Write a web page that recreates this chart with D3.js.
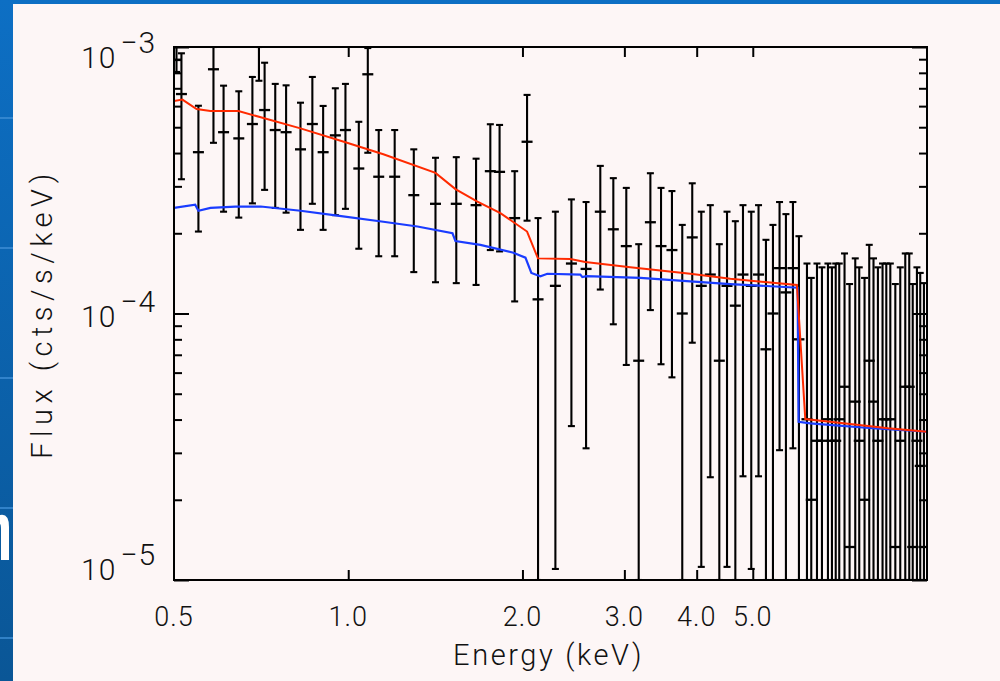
<!DOCTYPE html>
<html>
<head>
<meta charset="utf-8">
<script src="https://cdn.jsdelivr.net/npm/d3@7"></script>
<style>
  html, body { margin: 0; padding: 0; }
  body { width: 1000px; height: 681px; overflow: hidden; background: #0b63b0; }
  svg text { font-family: "Roboto", "Liberation Sans", "DejaVu Sans", sans-serif; font-weight: 300; fill: #111; }
</style>
</head>
<body>
<script>
// Spectrum bins: energy (keV), flux and the top/bottom of each error bar (cts/s/keV)
const energy = [
  0.505, 0.515, 0.551, 0.585, 0.609, 0.647, 0.683, 0.701, 0.717, 0.748,
  0.781, 0.827, 0.867, 0.905, 0.950, 0.989, 1.043, 1.081, 1.129, 1.203,
  1.298, 1.415, 1.537, 1.663, 1.760, 1.826, 1.939, 2.037, 2.128, 2.280,
  2.430, 2.576, 2.726, 2.871, 3.023, 3.176, 3.327, 3.471, 3.625, 3.777,
  3.930, 4.074, 4.223, 4.377, 4.513, 4.665, 4.809, 4.970, 5.116, 5.269,
  5.418, 5.562, 5.705, 5.866, 6.008, 6.203, 6.310, 6.455, 6.584, 6.743,
  6.851, 6.955, 7.053, 7.203, 7.349, 7.517, 7.637, 7.800, 7.947, 8.083,
  8.226, 8.379, 8.505, 8.642, 8.816, 8.991, 9.172, 9.318, 9.448, 9.607,
  9.734, 9.879
];
const flux = [
  8.94e-4, 6.66e-4, 4.03e-4, 8.25e-4, 4.79e-4, 4.54e-4, 5.14e-4, 1.08e-3, 5.80e-4, 4.88e-4,
  4.79e-4, 4.13e-4, 5.14e-4, 4.03e-4, 4.66e-4, 4.88e-4, 3.50e-4, 7.90e-4, 3.26e-4, 3.26e-4,
  2.78e-4, 2.58e-4, 2.58e-4, 2.55e-4, 3.42e-4, 3.40e-4, 2.28e-4, 4.41e-4, 1.13e-4, 1.27e-4,
  1.54e-4, 1.47e-4, 2.41e-4, 2.07e-4, 1.79e-4, 6.65e-5, 2.20e-4, 1.79e-4, 1.73e-4, 1.00e-4,
  1.93e-4, 1.27e-4, 1.40e-4, 6.65e-5, 1.27e-4, 1.07e-4, 1.40e-4, 1.27e-4, 1.40e-4, 7.34e-5,
  1.00e-4, 1.48e-4, 1.20e-4, 1.48e-4, 8.00e-5, 4.01e-5, 2.00e-5, 3.33e-5, 3.33e-5, 4.01e-5,
  3.33e-5, 3.33e-5, 4.01e-5, 5.31e-5, 1.33e-5, 4.67e-5, 3.33e-5, 2.00e-5, 6.65e-5, 4.67e-5,
  3.33e-5, 4.01e-5, 4.01e-5, 4.01e-5, 1.33e-5, 3.33e-5, 5.31e-5, 5.31e-5, 1.33e-5, 3.33e-5,
  2.68e-5, 1.33e-5
];
const fluxHi = [
  1.02e-3, 9.47e-4, 6.02e-4, 1.05e-3, 7.16e-4, 6.82e-4, 7.72e-4, 1.25e-3, 8.73e-4, 7.27e-4,
  7.18e-4, 6.18e-4, 7.72e-4, 6.01e-4, 7.00e-4, 7.27e-4, 5.24e-4, 9.91e-4, 4.88e-4, 4.88e-4,
  4.13e-4, 3.84e-4, 3.86e-4, 3.81e-4, 5.13e-4, 5.10e-4, 3.42e-4, 6.61e-4, 2.28e-4, 2.41e-4,
  2.68e-4, 2.62e-4, 3.58e-4, 3.22e-4, 2.96e-4, 1.82e-4, 3.36e-4, 2.96e-4, 2.88e-4, 2.15e-4,
  3.08e-4, 2.41e-4, 2.55e-4, 1.82e-4, 2.41e-4, 2.22e-4, 2.55e-4, 2.41e-4, 2.55e-4, 1.89e-4,
  2.15e-4, 2.62e-4, 2.36e-4, 2.62e-4, 1.95e-4, 1.54e-4, 1.36e-4, 1.54e-4, 1.49e-4, 1.54e-4,
  1.49e-4, 1.54e-4, 1.54e-4, 1.68e-4, 1.29e-4, 1.61e-4, 1.49e-4, 1.36e-4, 1.81e-4, 1.61e-4,
  1.49e-4, 1.54e-4, 1.54e-4, 1.54e-4, 1.29e-4, 1.49e-4, 1.68e-4, 1.68e-4, 1.29e-4, 1.49e-4,
  1.42e-4, 1.30e-4
];
const fluxLo = [
  8.06e-4, 3.19e-4, 2.03e-4, 4.37e-4, 2.41e-4, 2.29e-4, 2.59e-4, 7.47e-4, 2.91e-4, 2.49e-4,
  2.39e-4, 2.06e-4, 2.58e-4, 2.06e-4, 2.34e-4, 2.47e-4, 1.75e-4, 4.01e-4, 1.64e-4, 1.64e-4,
  1.43e-4, 1.31e-4, 1.30e-4, 1.28e-4, 1.73e-4, 1.71e-4, 1.11e-4, 2.23e-4, 0, 1.10e-5,
  3.78e-5, 3.12e-5, 1.23e-4, 9.11e-5, 6.41e-5, 0, 1.03e-4, 6.45e-5, 5.76e-5, 0,
  7.77e-5, 1.12e-5, 2.43e-5, 0, 1.12e-5, 0, 2.45e-5, 1.10e-5, 2.45e-5, 0,
  0, 3.07e-5, 0, 3.12e-5, 0, 0, 0, 0, 0, 0,
  0, 0, 0, 0, 0, 0, 0, 0, 0, 0,
  0, 0, 0, 0, 0, 0, 0, 0, 0, 0,
  0, 0
];

// Total model (red) and continuum model (blue)
const modelTotalE = [0.5, 0.517, 0.547, 0.578, 0.646, 0.706, 0.827, 0.989, 1.150, 1.415,
  1.532, 1.672, 1.832, 2.037, 2.127, 2.420, 2.568, 3.071, 3.900, 4.573, 5.960, 6.162, 7.370, 8.570, 10];
const modelTotalF = [6.27e-4, 6.35e-4, 5.85e-4, 5.75e-4, 5.75e-4, 5.45e-4, 4.95e-4, 4.39e-4, 3.96e-4, 3.37e-4,
  2.93e-4, 2.63e-4, 2.38e-4, 2.03e-4, 1.61e-4, 1.60e-4, 1.56e-4, 1.49e-4, 1.41e-4, 1.35e-4,
  1.28e-4, 4.02e-5, 3.85e-5, 3.71e-5, 3.60e-5];
const modelContE = [0.5, 0.544, 0.551, 0.578, 0.638, 0.706, 0.827, 0.958, 1.150, 1.317,
  1.514, 1.532, 1.692, 1.929, 2.024, 2.072, 2.148, 2.208, 2.518, 2.538,
  2.579, 3.197, 3.900, 4.573, 5.976, 6.000, 6.285, 8.045, 10];
const modelContF = [2.49e-4, 2.56e-4, 2.43e-4, 2.49e-4, 2.52e-4, 2.52e-4, 2.43e-4, 2.33e-4, 2.21e-4, 2.12e-4,
  2.00e-4, 1.87e-4, 1.81e-4, 1.69e-4, 1.62e-4, 1.42e-4, 1.38e-4, 1.41e-4, 1.40e-4, 1.37e-4,
  1.38e-4, 1.36e-4, 1.32e-4, 1.29e-4, 1.25e-4, 3.92e-5, 3.87e-5, 3.71e-5, 3.60e-5];

const xTickValues = [0.5, 1, 2, 3, 4, 5];
const xTickLabels = ["0.5", "1.0", "2.0", "3.0", "4.0", "5.0"];
const yTickExps = [-3, -4, -5];

// layout
const SVG_DIM = { W: 1000, H: 681 };
const PLOT = { L: 174, R: 927, T: 47, B: 580 };
const PANEL = { X: 13, Y: 4 };
const Y_LABEL_DY = { "-3": 21, "-4": 13, "-5": 0 }; // where each "10" sits against its tick

const svg = d3.select("body").append("svg")
  .attr("width", SVG_DIM.W)
  .attr("height", SVG_DIM.H);

// slide background
const grad = svg.append("defs").append("linearGradient")
  .attr("id", "slide").attr("x1", 0).attr("y1", 0).attr("x2", 0).attr("y2", 1);
grad.append("stop").attr("offset", "0%").attr("stop-color", "#0d6fc4");
grad.append("stop").attr("offset", "100%").attr("stop-color", "#0a5696");
svg.append("rect").attr("width", SVG_DIM.W).attr("height", SVG_DIM.H).attr("fill", "url(#slide)");
svg.selectAll("line.band").data([118, 248, 378, 508, 638]).enter().append("line")
  .attr("x1", 0).attr("x2", PANEL.X).attr("y1", d => d).attr("y2", d => d)
  .attr("stroke", "#3f8fd6").attr("stroke-width", 1.5);
// edge of a letter from the slide behind the panel
svg.append("path")
  .attr("d", "M0,515 Q9,513 9,527 L9,560 L1,560 L1,530 Q1,524 0,524 Z")
  .attr("fill", "#fff");
svg.append("rect")
  .attr("x", PANEL.X).attr("y", PANEL.Y)
  .attr("width", SVG_DIM.W - PANEL.X).attr("height", SVG_DIM.H - PANEL.Y)
  .attr("fill", "#fdf6f6");

// scales
const x = d3.scaleLog().domain([0.5, 10]).range([PLOT.L, PLOT.R]);
const y = d3.scaleLog().domain([1e-5, 1e-3]).range([PLOT.B, PLOT.T]);
const yc = y.copy().clamp(true);

svg.append("clipPath").attr("id", "plotClip").append("rect")
  .attr("x", PLOT.L).attr("y", PLOT.T)
  .attr("width", PLOT.R - PLOT.L).attr("height", PLOT.B - PLOT.T);

const bins = energy.map((e, i) => ({ e, f: flux[i], hi: fluxHi[i], lo: fluxLo[i] }));

// data points with error bars
const pts = svg.append("g").attr("clip-path", "url(#plotClip)")
  .attr("stroke", "#000").attr("stroke-width", 2.1).attr("fill", "none");

const CROSS = 5.5, CAP = 3.5;
const lowY = d => (d.lo > 0 ? yc(d.lo) : PLOT.B);
const bar = pts.selectAll("g.bin").data(bins).enter().append("g").attr("class", "bin");
bar.append("line")
  .attr("x1", d => x(d.e)).attr("x2", d => x(d.e))
  .attr("y1", d => yc(d.hi)).attr("y2", lowY);
bar.append("line")
  .attr("x1", d => x(d.e) - CAP).attr("x2", d => x(d.e) + CAP)
  .attr("y1", d => yc(d.hi)).attr("y2", d => yc(d.hi));
bar.append("line")
  .attr("x1", d => x(d.e) - CAP).attr("x2", d => x(d.e) + CAP)
  .attr("y1", lowY).attr("y2", lowY);
bar.filter(d => d.f <= 1e-3).append("line")
  .attr("stroke-width", 2.3)
  .attr("x1", d => x(d.e) - CROSS).attr("x2", d => x(d.e) + CROSS)
  .attr("y1", d => y(d.f)).attr("y2", d => y(d.f));

// model curves
const line = d3.line().x(d => x(d[0])).y(d => y(d[1]));
const models = svg.append("g").attr("clip-path", "url(#plotClip)").attr("fill", "none");
models.append("path")
  .datum(modelContE.map((e, i) => [e, modelContF[i]]))
  .attr("d", line).attr("stroke", "#1a3cff").attr("stroke-width", 2.2);
models.append("path")
  .datum(modelTotalE.map((e, i) => [e, modelTotalF[i]]))
  .attr("d", line).attr("stroke", "#ff2a00").attr("stroke-width", 2);

// axes: ticks on all four sides, pointing inward
const yMajor = yTickExps.map(k => Math.pow(10, k));
const yMinor = y.ticks().filter(v => Math.abs(Math.log10(v) - Math.round(Math.log10(v))) > 1e-6);
const xTicks = xTickValues.filter(v => v > 0.5);

function styleAxis(g) {
  g.select(".domain").remove();
  g.selectAll(".tick line").attr("stroke", "#000").attr("stroke-width", 2);
  g.selectAll(".tick text").remove();
}

svg.append("g").attr("transform", `translate(${PLOT.L},0)`)
  .call(d3.axisLeft(y).tickValues(yMajor).tickSize(-15)).call(styleAxis);
svg.append("g").attr("transform", `translate(${PLOT.L},0)`)
  .call(d3.axisLeft(y).tickValues(yMinor).tickSize(-8)).call(styleAxis);
svg.append("g").attr("transform", `translate(${PLOT.R},0)`)
  .call(d3.axisRight(y).tickValues(yMajor).tickSize(-15)).call(styleAxis);
svg.append("g").attr("transform", `translate(${PLOT.R},0)`)
  .call(d3.axisRight(y).tickValues(yMinor).tickSize(-8)).call(styleAxis);
svg.append("g").attr("transform", `translate(0,${PLOT.B})`)
  .call(d3.axisBottom(x).tickValues(xTicks).tickSize(-10)).call(styleAxis);
svg.append("g").attr("transform", `translate(0,${PLOT.T})`)
  .call(d3.axisTop(x).tickValues(xTicks).tickSize(-10)).call(styleAxis);

svg.append("rect")
  .attr("x", PLOT.L).attr("y", PLOT.T)
  .attr("width", PLOT.R - PLOT.L).attr("height", PLOT.B - PLOT.T)
  .attr("fill", "none").attr("stroke", "#000").attr("stroke-width", 2);

// tick labels
svg.append("g").selectAll("text").data(xTickValues).enter().append("text")
  .attr("x", d => x(d)).attr("y", 626)
  .attr("text-anchor", "middle")
  .style("font-size", "27px").style("letter-spacing", "1px")
  .text((d, i) => xTickLabels[i]);

const yLab = svg.append("g").selectAll("text").data(yTickExps).enter().append("text")
  .attr("x", 81).attr("y", k => y(Math.pow(10, k)) + Y_LABEL_DY[k])
  .style("font-size", "30px").style("letter-spacing", "1px");
yLab.append("tspan").text("10");
yLab.append("tspan").attr("dx", 4).attr("dy", -15).text(k => "\u2212" + Math.abs(k));

// axis titles
svg.append("text")
  .attr("x", (PLOT.L + PLOT.R) / 2 - 2).attr("y", 665)
  .attr("text-anchor", "middle")
  .style("font-size", "29px").style("letter-spacing", "2.6px")
  .text("Energy (keV)");
svg.append("text")
  .attr("transform", `translate(52,${(PLOT.T + PLOT.B) / 2}) rotate(-90)`)
  .attr("text-anchor", "middle")
  .style("font-size", "29px").style("letter-spacing", "5.5px")
  .text("Flux (cts/s/keV)");
</script>
</body>
</html>
